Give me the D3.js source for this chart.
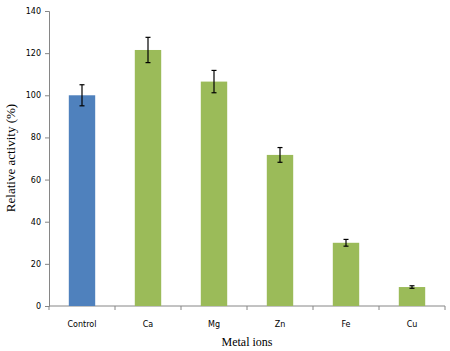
<!DOCTYPE html>
<html>
<head>
<meta charset="utf-8">
<script src="https://cdn.jsdelivr.net/npm/d3@7"></script>
<style>
  body { margin: 0; background: #fff; }
  #chart { width: 450px; height: 351px; }
</style>
</head>
<body>
<div id="chart"></div>
<script>
// data
const categories = ["Control", "Ca", "Mg", "Zn", "Fe", "Cu"];
const values = [100, 121.5, 106.5, 71.7, 30, 9];
const errors = [5, 6, 5.3, 3.5, 1.6, 0.6];
const barColors = ["#4f81bd", "#9bbb59", "#9bbb59", "#9bbb59", "#9bbb59", "#9bbb59"];
const yTicks = [0, 20, 40, 60, 80, 100, 120, 140];

const width = 450, height = 351;
const margin = { top: 11, left: 49, right: 5, bottom: 45 };

const svg = d3.select("#chart")
    .append("svg")
    .attr("width", width)
    .attr("height", height);

const data = categories.map((c, i) => ({ name: c, value: values[i], err: errors[i], color: barColors[i] }));

// scales
const xScale = d3.scaleBand()
    .domain(categories)
    .range([margin.left, width - margin.right])
    .paddingInner(0.6)
    .paddingOuter(0.3);

const yScale = d3.scaleLinear()
    .domain([0, 140])
    .range([height - margin.bottom, margin.top]);

// y axis
const yAxis = svg.append("g")
    .attr("transform", `translate(${margin.left},0)`)
    .call(d3.axisLeft(yScale).tickValues(yTicks).tickSize(4).tickPadding(4));
yAxis.selectAll("path, line").attr("stroke", "#868686");
yAxis.selectAll("text")
    .attr("font-family", "DejaVu Sans, sans-serif")
    .attr("font-size", "8px")
    .attr("fill", "#000");

// x axis with ticks at band boundaries
const x0 = margin.left, x1 = width - margin.right;
const step = (x1 - x0) / categories.length;
const xg = svg.append("g");
xg.append("line")
    .attr("x1", x0).attr("x2", x1)
    .attr("y1", yScale(0)).attr("y2", yScale(0))
    .attr("stroke", "#868686");
xg.selectAll(".xtick")
    .data(d3.range(categories.length + 1))
    .enter()
    .append("line")
    .attr("class", "xtick")
    .attr("x1", i => x0 + i * step)
    .attr("x2", i => x0 + i * step)
    .attr("y1", yScale(0))
    .attr("y2", yScale(0) + 4)
    .attr("stroke", "#868686");
xg.selectAll(".xlabel")
    .data(categories)
    .enter()
    .append("text")
    .attr("class", "xlabel")
    .attr("x", d => xScale(d) + xScale.bandwidth() / 2)
    .attr("y", yScale(0) + 21)
    .attr("text-anchor", "middle")
    .attr("font-family", "DejaVu Sans, sans-serif")
    .attr("font-size", "8px")
    .text(d => d);

// bars
svg.selectAll(".bar")
    .data(data)
    .enter()
    .append("rect")
    .attr("class", "bar")
    .attr("x", d => xScale(d.name))
    .attr("y", d => yScale(d.value))
    .attr("width", xScale.bandwidth())
    .attr("height", d => yScale(0) - yScale(d.value))
    .attr("fill", d => d.color);

// error bars
const eb = svg.selectAll(".err")
    .data(data)
    .enter()
    .append("g")
    .attr("class", "err")
    .attr("stroke", "#000")
    .attr("stroke-width", 1.2);
eb.append("line")
    .attr("x1", d => xScale(d.name) + xScale.bandwidth() / 2)
    .attr("x2", d => xScale(d.name) + xScale.bandwidth() / 2)
    .attr("y1", d => yScale(d.value + d.err))
    .attr("y2", d => yScale(d.value - d.err));
eb.append("line")
    .attr("x1", d => xScale(d.name) + xScale.bandwidth() / 2 - 2.5)
    .attr("x2", d => xScale(d.name) + xScale.bandwidth() / 2 + 2.5)
    .attr("y1", d => yScale(d.value + d.err))
    .attr("y2", d => yScale(d.value + d.err));
eb.append("line")
    .attr("x1", d => xScale(d.name) + xScale.bandwidth() / 2 - 2.5)
    .attr("x2", d => xScale(d.name) + xScale.bandwidth() / 2 + 2.5)
    .attr("y1", d => yScale(d.value - d.err))
    .attr("y2", d => yScale(d.value - d.err));

// axis titles
svg.append("text")
    .attr("x", (x0 + x1) / 2)
    .attr("y", 345.5)
    .attr("text-anchor", "middle")
    .attr("font-family", "Liberation Serif, serif")
    .attr("font-size", "12px")
    .text("Metal ions");

svg.append("text")
    .attr("transform", `translate(15,158) rotate(-90)`)
    .attr("text-anchor", "middle")
    .attr("font-family", "Liberation Serif, serif")
    .attr("font-size", "13px")
    .text("Relative activity (%)");
</script>
</body>
</html>
